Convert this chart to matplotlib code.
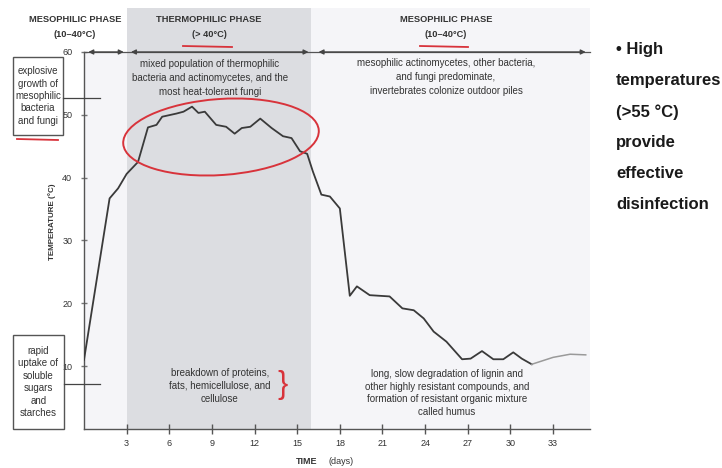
import matplotlib
matplotlib.use("Agg")
import matplotlib.pyplot as plt
from matplotlib.patches import Ellipse, Rectangle

plt.rcParams["font.family"] = ["Liberation Sans", "DejaVu Sans"]

# compost pile temperature over time
days = [0, 1.8, 2.4, 3.0, 3.8, 4.5, 5.1, 5.5, 6.5, 7.0, 7.6, 8.05, 8.5, 9.3, 10.0,
        10.6, 11.1, 11.7, 12.4, 13.2, 14.0, 14.6, 15.2, 15.7, 16.1, 16.7, 17.3, 18.0,
        18.7, 19.2, 20.1, 21.5, 22.4, 23.2, 23.9, 24.6, 25.5, 26.6, 27.2, 28.0, 28.8,
        29.5, 30.2, 30.8, 31.5, 33.0, 34.2, 35.3]
temps = [11, 36.7, 38.3, 40.6, 42.5, 48.0, 48.4, 49.7, 50.2, 50.5, 51.3, 50.3, 50.5, 48.4, 48.1,
         47.0, 47.9, 48.1, 49.4, 47.9, 46.6, 46.3, 44.2, 43.8, 41.0, 37.3, 37.0, 35.1,
         21.2, 22.7, 21.3, 21.1, 19.2, 18.9, 17.6, 15.5, 13.9, 11.1, 11.2, 12.4, 11.1,
         11.1, 12.2, 11.2, 10.3, 11.4, 11.9, 11.8]
faded_from = 44

phase_edges = [0, 3, 16, 35.6]
x_ticks = [3, 6, 9, 12, 15, 18, 21, 24, 27, 30, 33]
y_ticks = [10, 20, 30, 40, 50, 60]

W, H = 722, 468
fig = plt.figure(figsize=(W / 100, H / 100), dpi=100)
ax = fig.add_axes([84 / W, 1 - 429 / H, (590 - 84) / W, (429 - 52) / H])
ax.set_xlim(0, 35.6)
ax.set_ylim(0, 60)
ax.set_facecolor("#f5f5f8")

# phase backgrounds, extended above the axes
ax.add_patch(Rectangle((phase_edges[1], 0), phase_edges[2] - phase_edges[1], 67,
                       color="#dcdde1", zorder=0, clip_on=False, lw=0))
ax.add_patch(Rectangle((phase_edges[2], 0), phase_edges[3] - phase_edges[2], 67,
                       color="#f5f5f8", zorder=0, clip_on=False, lw=0))

ax.plot(days[:faded_from + 1], temps[:faded_from + 1], color="#3a3a3a", lw=1.3, zorder=3)
ax.plot(days[faded_from:], temps[faded_from:], color="#9a9a9a", lw=1.1, zorder=3)

for s in ["top", "right"]:
    ax.spines[s].set_visible(False)
for s in ["left", "bottom"]:
    ax.spines[s].set_color("#555555")
    ax.spines[s].set_linewidth(1.0)

ax.set_xticks(x_ticks)
ax.set_yticks(y_ticks)
ax.tick_params(axis="x", direction="inout", length=7, width=1, color="#555555",
               labelsize=6.5, labelcolor="#333333", pad=4)
ax.tick_params(axis="y", direction="inout", length=5, width=1, color="#777777",
               labelsize=6.5, labelcolor="#333333", pad=6)

# phase arrows along the 60 line
for a, b in [(0.3, 2.8), (3.3, 15.8), (16.5, 35.3)]:
    ax.annotate("", xy=(a, 60), xytext=(b, 60), annotation_clip=False,
                arrowprops=dict(arrowstyle="<|-|>", color="#444444", lw=1.0,
                                mutation_scale=7, shrinkA=0, shrinkB=0))
ax.plot([0, 35.6], [60, 60], color="#555555", lw=0.9, clip_on=False, zorder=2)


def ftext(x, y, s, **kw):
    kw.setdefault("ha", "center")
    kw.setdefault("va", "center")
    kw.setdefault("color", "#333333")
    fig.text(x / W, 1 - y / H, s, **kw)


# phase headers
ftext(75, 27, "MESOPHILIC PHASE\n(10–40°C)", fontsize=6.7, fontweight="bold", linespacing=1.75)
ftext(209, 27, "THERMOPHILIC PHASE\n(> 40°C)", fontsize=6.7, fontweight="bold", linespacing=1.75)
ftext(446, 27, "MESOPHILIC PHASE\n(10–40°C)", fontsize=6.7, fontweight="bold", linespacing=1.75)

ftext(210, 78, "mixed population of thermophilic\nbacteria and actinomycetes, and the\nmost heat-tolerant fungi",
      fontsize=7, linespacing=1.45)
ftext(446, 77, "mesophilic actinomycetes, other bacteria,\nand fungi predominate,\ninvertebrates colonize outdoor piles",
      fontsize=7, linespacing=1.45)
ftext(220, 386, "breakdown of proteins,\nfats, hemicellulose, and\ncellulose", fontsize=7, linespacing=1.35)
ftext(447, 393, "long, slow degradation of lignin and\nother highly resistant compounds, and\nformation of resistant organic mixture\ncalled humus",
      fontsize=7, linespacing=1.35)

# left boxes
for (x0, y0, x1, y1), label, ly in [
    ((13, 57, 63, 135), "explosive\ngrowth of\nmesophilic\nbacteria\nand fungi", 98),
    ((13, 335, 64, 429), "rapid\nuptake of\nsoluble\nsugars\nand\nstarches", 384),
]:
    fig.patches.append(Rectangle((x0 / W, 1 - y1 / H), (x1 - x0) / W, (y1 - y0) / H,
                                 transform=fig.transFigure, fill=False, ec="#555555", lw=1.0))
    ftext((x0 + x1) / 2, (y0 + y1) / 2, label, fontsize=7, linespacing=1.3)
    fig.add_artist(plt.Line2D([x1 / W, 100 / W], [1 - ly / H, 1 - ly / H],
                              color="#444444", lw=0.9))

ftext(52, 222, "TEMPERATURE (°C)", fontsize=5.8, fontweight="bold", rotation=90)
ftext(307, 461, "TIME", fontsize=6.5, fontweight="bold")
ftext(341, 461, "(days)", fontsize=6.5)

# side note
ftext(616, 127, "• High\ntemperatures\n(>55 °C)\nprovide\neffective\ndisinfection",
      ha="left", fontsize=12, fontweight="bold", color="#1a1a1a", linespacing=2.3)

# red hand annotations
red = "#d8333b"
fig.patches.append(Ellipse((221 / 100, (H - 137) / 100), 1.96, 0.76, angle=4,
                           transform=fig.dpi_scale_trans, fill=False, ec=red, lw=1.4))
for x0, x1, y in [(183, 232, 46), (420, 468, 46), (17, 58, 139)]:
    fig.add_artist(plt.Line2D([x0 / W, x1 / W], [1 - y / H, 1 - (y + 1) / H], color=red, lw=1.3))
ftext(283, 385, "}", fontsize=22, color=red, fontweight="light")

fig.savefig("out.png", dpi=100, facecolor="white")
